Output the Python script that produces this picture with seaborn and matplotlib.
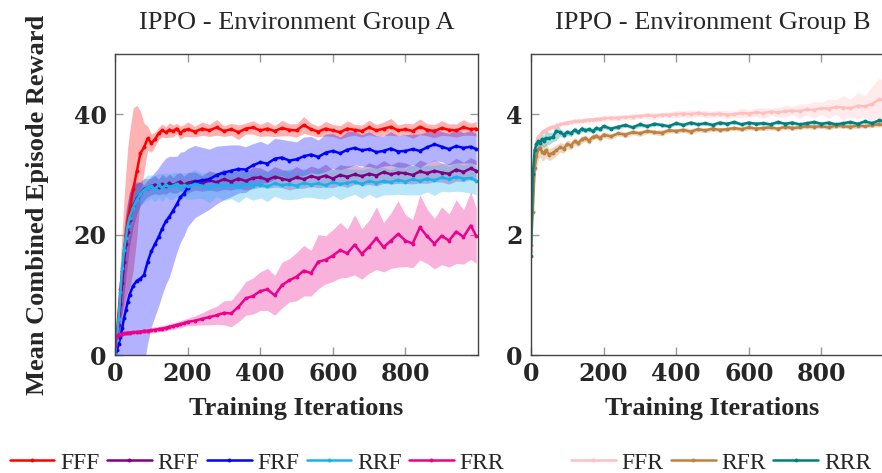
import pandas as pd
import seaborn as sns
import matplotlib
matplotlib.use("Agg")
import matplotlib.pyplot as plt

iters = [0, 5, 10, 15, 20, 25, 30, 35, 40, 50, 60, 70, 80, 90, 100, 110, 120, 130, 140, 150,
         160, 170, 180, 190, 200, 220, 240, 260, 280, 300, 320, 340, 360, 380, 400, 420, 440, 460, 480, 500,
         520, 540, 560, 580, 600, 620, 640, 660, 680, 700, 720, 740, 760, 780, 800, 820, 840, 860, 880, 900,
         920, 940, 960, 980, 995]

# Environment Group A
fff_mean = [0.5, 3.5, 7, 11, 14, 17, 20, 22.5, 24, 27.5, 30.5, 33.5, 34.5, 36, 35.2, 35.8, 36.8, 37.3, 37.0, 37.4,
            37.2, 37.6, 36.9, 37.3, 37.5, 37.1, 37.6, 37.3, 37.8, 37.2, 37.5, 37.0, 37.6, 37.8, 37.3, 37.6, 37.2, 37.7, 37.4, 37.3,
            38.2, 37.5, 37.1, 37.6, 37.3, 37.0, 37.6, 37.4, 37.2, 37.8, 37.3, 37.6, 37.9, 37.3, 37.5, 37.2, 37.9, 37.4, 37.2, 37.7,
            37.4, 37.3, 37.8, 37.5, 37.6]
fff_std = [0.5, 1.5, 3, 5, 7, 9, 10.5, 12, 13, 13.5, 11, 7, 4, 2, 1.5, 1.2, 1.0, 1.1, 0.9, 1.2,
           1.0, 0.9, 1.1, 1.0, 1.2, 0.9, 1.1, 1.0, 1.3, 0.9, 1.0, 1.2, 0.9, 1.1, 1.0, 1.2, 0.9, 1.3, 1.0, 1.1,
           1.4, 1.0, 0.9, 1.2, 1.0, 1.1, 1.3, 0.9, 1.0, 1.2, 1.0, 1.1, 1.4, 0.9, 1.0, 1.2, 1.3, 1.0, 1.1, 1.2,
           1.0, 1.1, 1.3, 1.0, 1.2]

rff_mean = [0.3, 2, 5, 8.5, 12, 15.5, 18.5, 20.5, 22.5, 24.8, 26, 26.8, 27.5, 27.8, 28.0, 28.3, 27.9, 28.4, 28.1, 28.6,
            28.2, 28.5, 28.8, 28.3, 28.6, 28.9, 28.5, 29.0, 28.7, 29.2, 28.8, 29.3, 28.9, 29.4, 29.5, 29.1, 29.6, 29.3, 29.0, 29.5,
            29.2, 29.7, 29.4, 29.8, 29.3, 29.9, 29.6, 30.0, 29.7, 30.1, 29.8, 30.4, 30.0, 30.3, 30.2, 29.9, 30.5, 30.2, 30.6, 30.3,
            30.1, 30.8, 30.4, 31.0, 30.6]
rff_std = [0.3, 1, 2.5, 4, 5, 5.5, 5.5, 5, 4.5, 3.5, 2.5, 2, 1.8, 1.5, 1.4, 1.5, 1.3, 1.6, 1.4, 1.5,
           1.3, 1.6, 1.5, 1.4, 1.7, 1.5, 1.3, 1.6, 1.5, 1.7, 1.4, 1.6, 1.5, 1.8, 1.6, 1.4, 1.7, 1.5, 1.6, 1.8,
           1.5, 1.7, 1.6, 1.9, 1.5, 1.7, 1.8, 1.6, 1.5, 1.8, 1.7, 1.9, 1.6, 1.8, 1.7, 1.5, 1.9, 1.7, 1.8, 1.6,
           1.7, 1.9, 1.6, 1.8, 1.7]

frf_mean = [0, 0.8, 1.8, 3, 4.5, 6.2, 7.5, 8.8, 10, 11.5, 12.3, 12.7, 13.3, 15.5, 17.2, 18.4, 19.6, 21.0, 22.2, 23.0,
            24.0, 25.0, 26.2, 26.8, 27.8, 28.8, 29.0, 29.2, 29.9, 30.3, 30.6, 30.9, 30.8, 31.5, 32.0, 31.8, 32.6, 32.8, 32.3, 32.5,
            33.0, 33.3, 32.9, 33.6, 33.9, 33.5, 34.1, 34.4, 34.0, 34.2, 33.7, 33.9, 34.3, 33.8, 33.9, 34.2, 33.9, 34.5, 35.0, 34.6,
            34.2, 34.7, 34.4, 34.6, 34.2]
frf_std = [0.5, 3, 7, 10, 12, 14, 15.5, 16.5, 17, 17, 16.5, 16, 15, 13.5, 12.5, 12, 11.5, 11, 10.5, 10,
           9, 8, 7.5, 7, 6.5, 6, 5.5, 5, 4.8, 4.5, 4.3, 4, 3.8, 3.6, 3.5, 3.2, 3.4, 3.0, 3.3, 2.9,
           3.2, 3.0, 2.8, 3.1, 2.9, 2.7, 3.0, 2.8, 2.6, 2.9, 2.7, 2.5, 2.8, 2.6, 2.7, 2.5, 2.8, 2.6, 2.7, 2.5,
           2.6, 2.8, 2.5, 2.7, 2.6]

rrf_mean = [0.2, 2.5, 6, 10.5, 14.5, 17.5, 19.5, 21.5, 22.8, 24.5, 25.8, 26.8, 27.4, 27.8, 28.0, 27.6, 28.2, 27.8, 28.3, 27.9,
            28.1, 28.4, 27.8, 28.2, 28.0, 28.4, 28.1, 27.8, 28.3, 28.0, 28.2, 27.9, 28.4, 28.1, 28.3, 28.0, 28.5, 28.2, 28.4, 28.1,
            28.6, 28.3, 28.5, 28.2, 28.7, 28.4, 28.6, 28.8, 28.4, 28.9, 28.6, 28.9, 28.7, 29.1, 28.8, 29.2, 28.9, 29.3, 29.0, 29.5,
            29.2, 29.6, 29.3, 29.4, 28.9]
rrf_std = [0.3, 1, 2, 3, 3.5, 3.5, 3.5, 3, 3, 2.5, 2.2, 2, 2, 2.1, 1.9, 2.2, 2.0, 2.3, 1.9, 2.1,
           2.2, 1.9, 2.3, 2.0, 2.2, 2.4, 2.1, 2.5, 2.0, 2.3, 2.2, 2.6, 2.1, 2.4, 2.2, 2.5, 2.1, 2.3, 2.6, 2.2,
           2.4, 2.1, 2.5, 2.3, 2.2, 2.6, 2.3, 2.1, 2.4, 2.2, 2.5, 2.3, 2.1, 2.4, 2.2, 2.6, 2.3, 2.2, 2.5, 2.3,
           2.1, 2.4, 2.2, 2.5, 2.3]

frr_mean = [1.5, 3.2, 3.4, 3.5, 3.5, 3.6, 3.6, 3.7, 3.7, 3.8, 3.8, 3.9, 4.0, 4.0, 4.1, 4.2, 4.3, 4.4, 4.5, 4.7,
            4.8, 5.0, 5.1, 5.3, 5.5, 5.7, 6.0, 6.3, 6.6, 7.0, 6.9, 8.0, 9.4, 9.8, 10.6, 10.9, 9.9, 11.6, 12.4, 13.0,
            14.0, 13.6, 15.5, 15.8, 16.5, 17.4, 16.9, 18.3, 16.8, 18.0, 19.4, 17.9, 19.0, 20.1, 19.0, 18.5, 21.2, 19.7, 18.5, 19.8,
            19.0, 20.5, 19.6, 21.5, 19.8]
frr_std = [0.3, 0.4, 0.4, 0.3, 0.4, 0.3, 0.4, 0.3, 0.4, 0.3, 0.4, 0.3, 0.4, 0.4, 0.4, 0.5, 0.4, 0.5, 0.5, 0.5,
           0.6, 0.5, 0.6, 0.6, 0.6, 0.8, 1.0, 1.3, 1.5, 2.0, 2.2, 2.5, 2.8, 3.0, 3.2, 3.5, 3.3, 3.8, 3.6, 4.0,
           4.2, 3.8, 4.5, 4.0, 4.3, 4.6, 4.0, 5.0, 4.2, 4.4, 5.2, 4.1, 4.6, 5.5, 4.3, 4.0, 5.4, 4.5, 4.2, 4.8,
           4.4, 5.3, 4.5, 5.6, 4.6]

# Environment Group B
ffr_mean = [1.72, 2.9, 3.3, 3.5, 3.6, 3.65, 3.7, 3.72, 3.74, 3.77, 3.79, 3.81, 3.83, 3.85, 3.86, 3.87, 3.88, 3.89, 3.89, 3.9,
            3.91, 3.91, 3.92, 3.92, 3.93, 3.94, 3.94, 3.95, 3.96, 3.97, 3.98, 3.97, 3.99, 3.99, 4.0, 4.01, 4.0, 4.02, 4.0, 4.0,
            4.01, 3.99, 4.0, 4.02, 4.01, 4.03, 4.02, 4.04, 4.03, 4.05, 4.06, 4.05, 4.08, 4.07, 4.1, 4.09, 4.12, 4.11, 4.1, 4.14,
            4.13, 4.17, 4.25, 4.21, 4.23]
ffr_std = [0.02, 0.1, 0.08, 0.06, 0.05, 0.05, 0.04, 0.04, 0.05, 0.04, 0.04, 0.03, 0.04, 0.03, 0.04, 0.03, 0.04, 0.03, 0.04, 0.03,
           0.04, 0.03, 0.04, 0.04, 0.05, 0.04, 0.05, 0.04, 0.05, 0.04, 0.05, 0.06, 0.04, 0.05, 0.06, 0.05, 0.07, 0.05, 0.06, 0.05,
           0.06, 0.07, 0.05, 0.08, 0.06, 0.07, 0.09, 0.06, 0.08, 0.1, 0.07, 0.12, 0.09, 0.14, 0.1, 0.16, 0.12, 0.2, 0.15, 0.22,
           0.18, 0.3, 0.35, 0.28, 0.32]

rfr_mean = [1.82, 2.38, 3.1, 3.3, 3.42, 3.44, 3.38, 3.35, 3.4, 3.33, 3.36, 3.4, 3.45, 3.43, 3.5, 3.48, 3.55, 3.52, 3.58, 3.6,
            3.56, 3.62, 3.64, 3.6, 3.66, 3.63, 3.68, 3.66, 3.7, 3.68, 3.72, 3.7, 3.69, 3.73, 3.72, 3.74, 3.71, 3.75, 3.73, 3.76,
            3.74, 3.75, 3.77, 3.75, 3.78, 3.76, 3.77, 3.78, 3.76, 3.79, 3.77, 3.78, 3.8, 3.79, 3.8, 3.78, 3.81, 3.8, 3.79, 3.81,
            3.8, 3.82, 3.83, 3.81, 3.82]
rfr_std = [0.02, 0.1, 0.2, 0.2, 0.18, 0.15, 0.15, 0.12, 0.12, 0.1, 0.1, 0.09, 0.08, 0.08, 0.07, 0.07, 0.06, 0.06, 0.06, 0.05,
           0.06, 0.05, 0.05, 0.06, 0.05, 0.05, 0.04, 0.05, 0.04, 0.05, 0.04, 0.04, 0.05, 0.04, 0.04, 0.04, 0.05, 0.04, 0.04, 0.04,
           0.04, 0.04, 0.03, 0.04, 0.04, 0.03, 0.04, 0.04, 0.03, 0.04, 0.04, 0.03, 0.04, 0.04, 0.03, 0.04, 0.04, 0.03, 0.04, 0.04,
           0.03, 0.04, 0.04, 0.03, 0.04]

rrr_mean = [1.65, 3.0, 3.4, 3.5, 3.55, 3.52, 3.58, 3.55, 3.6, 3.6, 3.62, 3.72, 3.7, 3.66, 3.7, 3.68, 3.74, 3.7, 3.76, 3.73,
            3.75, 3.72, 3.77, 3.75, 3.8, 3.76, 3.79, 3.82, 3.78, 3.83, 3.8, 3.84, 3.82, 3.8, 3.85, 3.82, 3.86, 3.83, 3.85, 3.82,
            3.86, 3.84, 3.87, 3.83, 3.86, 3.84, 3.85, 3.83, 3.87, 3.84, 3.86, 3.83, 3.85, 3.87, 3.84, 3.86, 3.83, 3.85, 3.87, 3.84,
            3.88, 3.85, 3.9, 3.86, 3.88]
rrr_std = [0.02, 0.12, 0.15, 0.15, 0.12, 0.12, 0.1, 0.1, 0.12, 0.1, 0.08, 0.15, 0.06, 0.06, 0.05, 0.05, 0.05, 0.04, 0.05, 0.04,
           0.04, 0.04, 0.04, 0.04, 0.04, 0.03, 0.04, 0.03, 0.03, 0.04, 0.03, 0.03, 0.03, 0.03, 0.03, 0.03, 0.03, 0.03, 0.03, 0.03,
           0.03, 0.03, 0.03, 0.03, 0.03, 0.03, 0.03, 0.03, 0.03, 0.03, 0.03, 0.03, 0.03, 0.03, 0.03, 0.03, 0.03, 0.03, 0.03, 0.03,
           0.03, 0.03, 0.03, 0.03, 0.03]

group_a = [("FFF", fff_mean, fff_std, "#ff0000"),
           ("RFF", rff_mean, rff_std, "#800080"),
           ("FRF", frf_mean, frf_std, "#0000ff"),
           ("RRF", rrf_mean, rrf_std, "#1ab0ec"),
           ("FRR", frr_mean, frr_std, "#ec008c")]
group_b = [("FFR", ffr_mean, ffr_std, "#ffbfbf"),
           ("RFR", rfr_mean, rfr_std, "#bf8040"),
           ("RRR", rrr_mean, rrr_std, "#008080")]

sns.set_theme(style="white")
plt.rcParams["font.family"] = ["Liberation Serif", "DejaVu Serif"]

fig = plt.figure(figsize=(8.82, 4.73), dpi=100)
ax_a = fig.add_axes([115 / 882, 118 / 473, 363 / 882, 301 / 473])
ax_b = fig.add_axes([531 / 882, 118 / 473, 363 / 882, 301 / 473])


def draw(ax, series):
    handles = []
    for name, mean, std, color in series:
        df = pd.DataFrame({"iter": iters, "mean": mean, "std": std})
        ax.fill_between(df["iter"], df["mean"] - df["std"], df["mean"] + df["std"],
                        color=color, alpha=0.3, linewidth=0)
        sns.lineplot(data=df, x="iter", y="mean", ax=ax, color=color, linewidth=1.8,
                     marker="o", markersize=2.8, markeredgewidth=0, legend=False)
        handles.append(ax.lines[-1])
        handles[-1].set_label(name)
    return handles


h_a = draw(ax_a, group_a)
h_b = draw(ax_b, group_b)

tick_font = {"family": "DejaVu Serif", "weight": "bold", "size": 17}
for ax, ylim, yticks, title in [(ax_a, 50, [0, 20, 40], "IPPO - Environment Group A"),
                                (ax_b, 5, [0, 2, 4], "IPPO - Environment Group B")]:
    ax.set_xlim(0, 1000)
    ax.set_ylim(0, ylim)
    ax.set_xticks([0, 200, 400, 600, 800])
    ax.set_xticklabels(["0", "200", "400", "600", "800"], fontdict=tick_font)
    ax.set_yticks(yticks)
    ax.set_yticklabels([str(t) for t in yticks], fontdict=tick_font)
    ax.tick_params(axis="both", direction="in", length=6, width=1, color="#999999",
                   top=True, right=True, bottom=True, left=True)
    ax.tick_params(axis="x", pad=5)
    ax.tick_params(axis="y", pad=6)
    for sp in ax.spines.values():
        sp.set_color("#444444")
        sp.set_linewidth(1.0)
    ax.set_title(title, fontsize=19, pad=18)
    ax.set_xlabel("Training Iterations", fontsize=19, fontweight="bold", labelpad=8)
    ax.set_ylabel("")

ax_a.set_ylabel("Mean Combined Episode Reward", fontsize=19, fontweight="bold", labelpad=18)

leg_kw = dict(loc="center", frameon=False, fontsize=17, handlelength=1.9,
              handletextpad=0.25, columnspacing=0.3, borderpad=0)
fig.legend(handles=h_a, bbox_to_anchor=(257 / 882, 1 - 463 / 473), ncol=5, **leg_kw)
fig.legend(handles=h_b, bbox_to_anchor=(721 / 882, 1 - 463 / 473), ncol=3, **leg_kw)

fig.savefig("out.png", dpi=100)
